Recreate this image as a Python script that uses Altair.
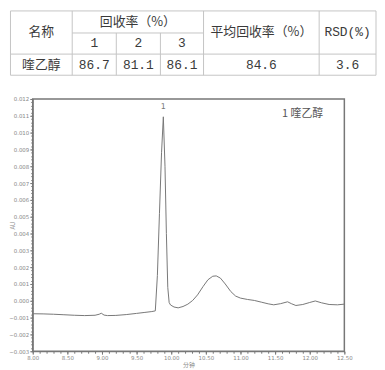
import altair as alt
import pandas as pd

# ---------------- data ----------------
compound = "喹乙醇"
replicate_labels = ["1", "2", "3"]
recovery = [86.7, 81.1, 86.1]
mean_recovery = 84.6
rsd = 3.6

time_min = [8.00, 8.15, 8.30, 8.45, 8.60, 8.75, 8.90, 8.96, 8.99, 9.03, 9.08, 9.20,
            9.35, 9.50, 9.62, 9.72, 9.77, 9.80, 9.83, 9.86, 9.886, 9.91, 9.93, 9.95,
            9.97, 9.99, 10.04, 10.10, 10.17, 10.24, 10.31, 10.38, 10.46, 10.53, 10.60,
            10.65, 10.71, 10.78, 10.86, 10.93, 11.00, 11.10, 11.20, 11.30, 11.40, 11.48,
            11.58, 11.68, 11.74, 11.80, 11.90, 12.00, 12.08, 12.17, 12.28, 12.40, 12.50]
absorbance = [-0.00077, -0.00078, -0.00080, -0.00083, -0.00086, -0.00088, -0.00086,
              -0.00080, -0.00074, -0.00085, -0.00088, -0.00087, -0.00082, -0.00075,
              -0.00069, -0.00064, -0.00060, 0.0015, 0.0052, 0.0088, 0.01094, 0.0080,
              0.0040, 0.0008, -0.0001, -0.00025, -0.00037, -0.00042, -0.00034, -0.00020,
              0.00002, 0.00035, 0.00085, 0.00125, 0.00146, 0.00148, 0.00135, 0.00100,
              0.00055, 0.00028, 0.00016, 0.00008, 0.00002, -0.00008, -0.00018, -0.00024,
              -0.00017, -0.00006, -0.00018, -0.00028, -0.00022, -0.00010, -0.00001,
              -0.00012, -0.00022, -0.00024, -0.00020]

peak_label = "1"
peak_time = 9.886
peak_label_au = 0.01153
legend_label = "1 喹乙醇"
legend_time = 11.6
legend_au = 0.01112

x_major = [8.0, 8.5, 9.0, 9.5, 10.0, 10.5, 11.0, 11.5, 12.0, 12.5]
y_major = [-0.003, -0.002, -0.001, 0.0, 0.001, 0.002, 0.003, 0.004, 0.005,
           0.006, 0.007, 0.008, 0.009, 0.010, 0.011, 0.012]
x_minor = [round(8.0 + 0.1 * i, 2) for i in range(46)]
y_minor = [round(-0.003 + 0.0002 * i, 4) for i in range(76)]

# ---------------- table layout ----------------
col_edges = [5, 68, 113, 158, 202, 320, 378]
row_edges = [3, 27, 50, 73]

def mid(a, b):
    return (a + b) / 2

hrules = [
    (col_edges[0], col_edges[-1], row_edges[0], row_edges[0]),
    (col_edges[1], col_edges[4], row_edges[1], row_edges[1]),
    (col_edges[0], col_edges[-1], row_edges[2], row_edges[2]),
    (col_edges[0], col_edges[-1], row_edges[3], row_edges[3]),
]
vrules = [
    (col_edges[0], col_edges[0], row_edges[0], row_edges[3]),
    (col_edges[1], col_edges[1], row_edges[0], row_edges[3]),
    (col_edges[2], col_edges[2], row_edges[1], row_edges[3]),
    (col_edges[3], col_edges[3], row_edges[1], row_edges[3]),
    (col_edges[4], col_edges[4], row_edges[0], row_edges[3]),
    (col_edges[5], col_edges[5], row_edges[0], row_edges[3]),
    (col_edges[6], col_edges[6], row_edges[0], row_edges[3]),
]
rules_df = pd.DataFrame(hrules + vrules, columns=["x", "x2", "y", "y2"])

head_y = mid(row_edges[0], row_edges[2])
data_y = mid(row_edges[2], row_edges[3])
cjk_df = pd.DataFrame([
    {"x": mid(col_edges[0], col_edges[1]), "y": head_y, "t": "名称"},
    {"x": mid(col_edges[1], col_edges[4]), "y": mid(row_edges[0], row_edges[1]), "t": "回收率（%）"},
    {"x": mid(col_edges[4], col_edges[5]), "y": head_y, "t": "平均回收率（%）"},
    {"x": mid(col_edges[0], col_edges[1]), "y": data_y, "t": compound},
])
num_rows = [{"x": mid(col_edges[5], col_edges[6]), "y": head_y, "t": "RSD(%)"}]
for i, lab in enumerate(replicate_labels):
    num_rows.append({"x": mid(col_edges[1 + i], col_edges[2 + i]),
                     "y": mid(row_edges[1], row_edges[2]), "t": lab})
    num_rows.append({"x": mid(col_edges[1 + i], col_edges[2 + i]),
                     "y": data_y, "t": f"{recovery[i]:.1f}"})
num_rows.append({"x": mid(col_edges[4], col_edges[5]), "y": data_y, "t": f"{mean_recovery:.1f}"})
num_rows.append({"x": mid(col_edges[5], col_edges[6]), "y": data_y, "t": f"{rsd:.1f}"})
num_df = pd.DataFrame(num_rows)

tx = alt.Scale(domain=[col_edges[0], col_edges[-1]], range=[-22.5, 347], nice=False, zero=False)
ty = alt.Scale(domain=[row_edges[0], row_edges[-1]], range=[-89, -24], nice=False, zero=False)

t_rules = alt.Chart(rules_df).mark_rule(color="#c4c4c4", strokeWidth=1).encode(
    x=alt.X("x:Q", scale=tx, axis=None), x2="x2:Q",
    y=alt.Y("y:Q", scale=ty, axis=None), y2="y2:Q")
t_cjk = alt.Chart(cjk_df).mark_text(font="Noto Sans CJK SC", fontSize=13, color="#3a3a3a",
                                    align="center", baseline="middle").encode(
    x=alt.X("x:Q", scale=tx, axis=None), y=alt.Y("y:Q", scale=ty, axis=None), text="t:N")
t_num = alt.Chart(num_df).mark_text(font="Liberation Mono", fontSize=13, color="#3a3a3a",
                                    align="center", baseline="middle").encode(
    x=alt.X("x:Q", scale=tx, axis=None), y=alt.Y("y:Q", scale=ty, axis=None), text="t:N")
table = alt.layer(t_rules, t_cjk, t_num)

# ---------------- chromatogram ----------------
chrom_df = pd.DataFrame({"t": time_min, "au": absorbance})
xs = alt.Scale(domain=[8.0, 12.5], nice=False, zero=False)
ys = alt.Scale(domain=[-0.003, 0.012], nice=False, zero=False)

major_axis = dict(tickSize=3, tickColor="#777", domainColor="#777", labelFontSize=5.5,
                  labelColor="#888", labelFont="DejaVu Sans", grid=False, labelPadding=1,
                  titleFontSize=6, titleColor="#888", titleFontWeight="normal",
                  titleFont="Noto Sans CJK SC", labelOverlap=False, labelFlush=False,
                  labelBound=False)

line = alt.Chart(chrom_df).mark_line(color="#777", strokeWidth=1).encode(
    x=alt.X("t:Q", scale=xs, axis=alt.Axis(
        values=x_major, format=".2f", title="分钟", titlePadding=1, orient="bottom",
        **major_axis)),
    y=alt.Y("au:Q", scale=ys, axis=alt.Axis(
        values=y_major, format=".3f", title="AU", titleX=-17, titleBaseline="bottom",
        orient="left", **major_axis)),
)
minor = alt.Chart(chrom_df).mark_line(strokeOpacity=0).encode(
    x=alt.X("t:Q", scale=xs, axis=alt.Axis(
        values=x_minor, labels=False, domain=False, title=None, tickSize=2,
        tickColor="#777", grid=False, orient="bottom")),
    y=alt.Y("au:Q", scale=ys, axis=alt.Axis(
        values=y_minor, labels=False, domain=False, title=None, tickSize=2,
        tickColor="#777", grid=False, orient="left")),
)
peak_df = pd.DataFrame({"t": [peak_time], "au": [peak_label_au], "s": [peak_label]})
peak_txt = alt.Chart(peak_df).mark_text(fontSize=8, color="#777", font="DejaVu Sans",
                                        baseline="middle").encode(
    x=alt.X("t:Q", scale=xs, axis=None), y=alt.Y("au:Q", scale=ys, axis=None), text="s:N")
leg_df = pd.DataFrame({"t": [legend_time], "au": [legend_au], "s": [legend_label]})
leg_txt = alt.Chart(leg_df).mark_text(fontSize=11, color="#555", font="Noto Sans CJK SC",
                                      align="left", baseline="middle").encode(
    x=alt.X("t:Q", scale=xs, axis=None), y=alt.Y("au:Q", scale=ys, axis=None), text="s:N")
chrom = alt.layer(line, minor, peak_txt, leg_txt).resolve_axis(x="independent", y="independent")

chart = alt.layer(chrom, table).resolve_scale(x="independent", y="independent").properties(
    width=315, height=255, padding=0, background="white"
).configure_view(stroke="#777", strokeWidth=1.5)

chart.save("out.html", embed_options={"renderer": "svg", "actions": False})
